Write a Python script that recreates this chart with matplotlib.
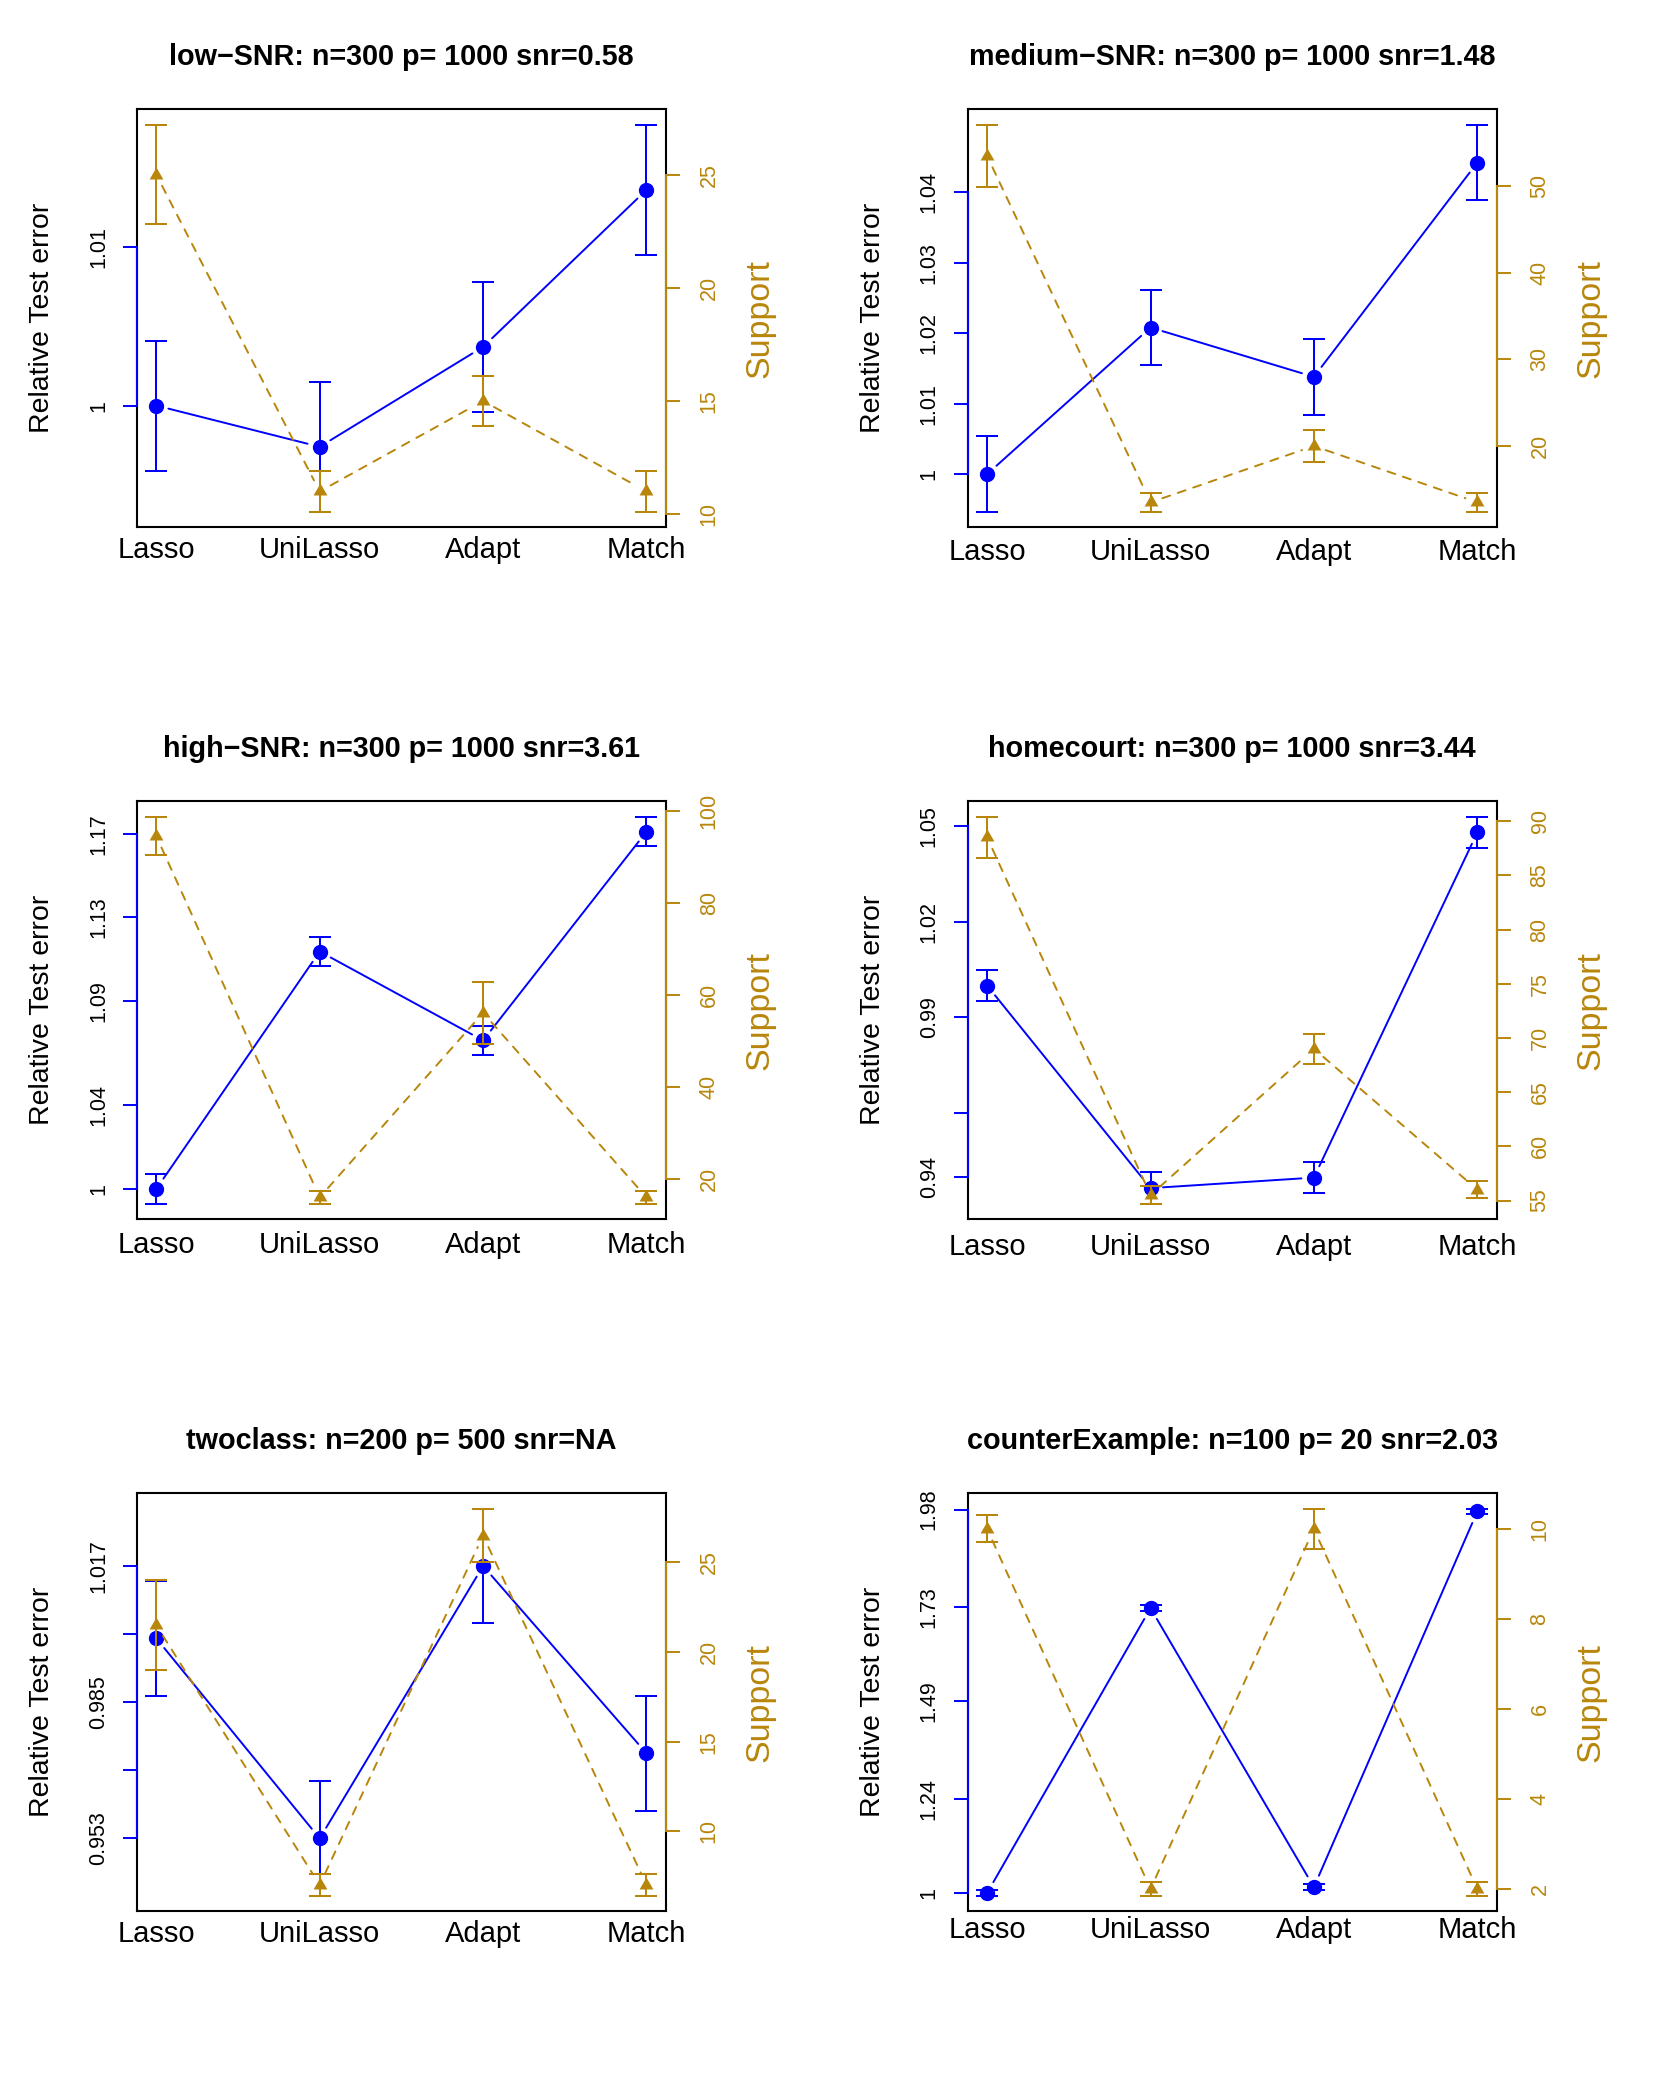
import matplotlib
matplotlib.use('Agg')
import matplotlib.pyplot as plt
from matplotlib.path import Path
import numpy as np

plt.rcParams['font.family'] = ['Liberation Sans', 'DejaVu Sans']

methods = ['Lasso', 'UniLasso', 'Adapt', 'Match']
titles = ['low−SNR: n=300 p= 1000 snr=0.58',
          'medium−SNR: n=300 p= 1000 snr=1.48',
          'high−SNR: n=300 p= 1000 snr=3.61',
          'homecourt: n=300 p= 1000 snr=3.44',
          'twoclass: n=200 p= 500 snr=NA',
          'counterExample: n=100 p= 20 snr=2.03']

# Relative test error (mean, se) per panel
err_low = [1.0, 0.9974, 1.0037, 1.0136]
err_low_se = [0.0041, 0.0041, 0.0041, 0.0041]
err_med = [1.0, 1.0208, 1.0138, 1.0442]
err_med_se = [0.00535, 0.00535, 0.00535, 0.00535]
err_high = [1.0, 1.1137, 1.0711, 1.1711]
err_high_se = [0.0071, 0.0071, 0.0071, 0.0071]
err_home = [1.0, 0.9365, 0.9398, 1.0480]
err_home_se = [0.0049, 0.0049, 0.0049, 0.0049]
err_two = [1.0, 0.9530, 1.0170, 0.9730]
err_two_se = [0.01344, 0.01344, 0.01344, 0.01344]
err_ctr = [1.0, 1.728, 1.0147, 1.975]
err_ctr_se = [0.007, 0.008, 0.007, 0.007]

# Support size (mean, se) per panel
sup_low = [25.0, 11.0, 15.0, 11.0]
sup_low_se = [2.2, 0.9, 1.1, 0.9]
sup_med = [53.5, 13.5, 20.0, 13.5]
sup_med_se = [3.6, 1.1, 1.8, 1.1]
sup_high = [94.6, 15.9, 56.1, 15.9]
sup_high_se = [4.2, 1.4, 6.7, 1.4]
sup_home = [88.5, 55.5, 69.0, 56.0]
sup_home_se = [1.9, 0.8, 1.4, 0.8]
sup_two = [21.5, 7.0, 26.5, 7.0]
sup_two_se = [2.5, 0.6, 1.5, 0.6]
sup_ctr = [10.0, 2.0, 10.0, 2.0]
sup_ctr_se = [0.3, 0.15, 0.45, 0.15]

# Left axis ticks and labels
lt_low = [1.0, 1.01]
ll_low = ['1', '1.01']
lt_med = [1.0, 1.01, 1.02, 1.03, 1.04]
ll_med = ['1', '1.01', '1.02', '1.03', '1.04']
lt_high = [1.0, 1.04, 1.09, 1.13, 1.17]
ll_high = ['1', '1.04', '1.09', '1.13', '1.17']
lt_home = [0.94, 0.96, 0.99, 1.02, 1.05]
ll_home = ['0.94', '', '0.99', '1.02', '1.05']
lt_two = [0.953, 0.969, 0.985, 1.001, 1.017]
ll_two = ['0.953', '', '0.985', '', '1.017']
lt_ctr = [1.0, 1.24, 1.49, 1.73, 1.98]
ll_ctr = ['1', '1.24', '1.49', '1.73', '1.98']

# Right axis ticks
rt_low = [10, 15, 20, 25]
rt_med = [20, 30, 40, 50]
rt_high = [20, 40, 60, 80, 100]
rt_home = [55, 60, 65, 70, 75, 80, 85, 90]
rt_two = [10, 15, 20, 25]
rt_ctr = [2, 4, 6, 8, 10]

panels = [
    (titles[0], err_low, err_low_se, sup_low, sup_low_se, lt_low, ll_low, rt_low),
    (titles[1], err_med, err_med_se, sup_med, sup_med_se, lt_med, ll_med, rt_med),
    (titles[2], err_high, err_high_se, sup_high, sup_high_se, lt_high, ll_high, rt_high),
    (titles[3], err_home, err_home_se, sup_home, sup_home_se, lt_home, ll_home, rt_home),
    (titles[4], err_two, err_two_se, sup_two, sup_two_se, lt_two, ll_two, rt_two),
    (titles[5], err_ctr, err_ctr_se, sup_ctr, sup_ctr_se, lt_ctr, ll_ctr, rt_ctr),
]

BLUE = '#0000FF'
GOLD = '#B8860B'

# equilateral triangle centred on its centroid (like R pch 17)
s3 = np.sqrt(3.0)
TRI = Path([(-1, -1 / s3), (1, -1 / s3), (0, 2 / s3), (-1, -1 / s3)],
           [Path.MOVETO, Path.LINETO, Path.LINETO, Path.CLOSEPOLY])

fig = plt.figure(figsize=(16.61, 20.76), dpi=100)
lefts = [0.0823, 0.5825]
bottoms = [0.7460, 0.4127, 0.0794]
W, H = 0.3187, 0.2013
xpads = [6, 7.5, 8.5, 10, 6.5, 3.5]


def padded(m, s):
    m = np.asarray(m); s = np.asarray(s)
    lo = (m - s).min(); hi = (m + s).max(); r = hi - lo
    return lo - 0.04 * r, hi + 0.04 * r


def connect(ax, x, y, color, ls):
    for i in range(len(x) - 1):
        ax.annotate('', xy=(x[i + 1], y[i + 1]), xytext=(x[i], y[i]),
                    xycoords='data', textcoords='data',
                    arrowprops=dict(arrowstyle='-', color=color, lw=1.4,
                                    linestyle=ls, shrinkA=9, shrinkB=9))


x = np.arange(1, len(methods) + 1)

for k, (title, em, es, sm, ss, lt, ll, rt) in enumerate(panels):
    r, c = divmod(k, 2)
    ax = fig.add_axes([lefts[c], bottoms[r], W, H])
    ax2 = ax.twinx()

    # left: relative test error
    ax.errorbar(x, em, yerr=es, fmt='none', ecolor=BLUE, elinewidth=1.45,
                capsize=7.7, capthick=1.45, zorder=2)
    connect(ax, x, em, BLUE, '-')
    ax.plot(x, em, 'o', color=BLUE, markersize=10, markeredgewidth=1, zorder=3)
    ax.set_xlim(0.88, 4.12)
    ax.set_ylim(*padded(em, es))
    ax.set_yticks(lt)
    ax.set_yticklabels(ll, rotation=90, va='center', fontsize=15.5)
    ax.tick_params(axis='y', colors=BLUE, labelcolor='black', length=10,
                   width=1.4, pad=10)
    ax.set_xticks(x)
    ax.set_xticklabels(methods, fontsize=21)
    ax.tick_params(axis='x', length=0, pad=xpads[k])
    for sp in ax.spines.values():
        sp.set_linewidth(1.5)
        sp.set_color('black')
    ax.plot([0, 0], [min(lt), max(lt)], transform=ax.get_yaxis_transform(),
            color=BLUE, lw=1.5, clip_on=False, zorder=4)
    ax.set_ylabel('Relative Test error', fontsize=20.5)
    ax.yaxis.label.set_va('center')
    ax.yaxis.set_label_coords(-0.1793, 0.5)
    ax.set_title(title, fontsize=20.7, fontweight='bold', pad=32)

    # right: support
    ax2.errorbar(x, sm, yerr=ss, fmt='none', ecolor=GOLD, elinewidth=1.45,
                 capsize=7.7, capthick=1.45, zorder=2)
    connect(ax2, x, sm, GOLD, (0, (4.2, 4.2)))
    ax2.plot(x, sm, marker=TRI, linestyle='none', color=GOLD,
             markersize=11.5, markeredgewidth=0, zorder=3)
    ax2.set_ylim(*padded(sm, ss))
    ax2.set_yticks(rt)
    ax2.set_yticklabels([str(v) for v in rt], rotation=90, va='center',
                        fontsize=15.5)
    ax2.tick_params(axis='y', colors=GOLD, labelcolor=GOLD, length=10,
                    width=1.4, pad=13.5)
    for sp in ax2.spines.values():
        sp.set_visible(False)
    ax2.plot([1, 1], [min(rt), max(rt)], transform=ax2.get_yaxis_transform(),
             color=GOLD, lw=1.5, clip_on=False, zorder=4)
    ax2.set_ylabel('Support', fontsize=24.5, color=GOLD, rotation=90)
    ax2.yaxis.label.set_va('center')
    ax2.yaxis.set_label_coords(1.178, 0.5)

fig.savefig('out.png', dpi=100, facecolor='white')
